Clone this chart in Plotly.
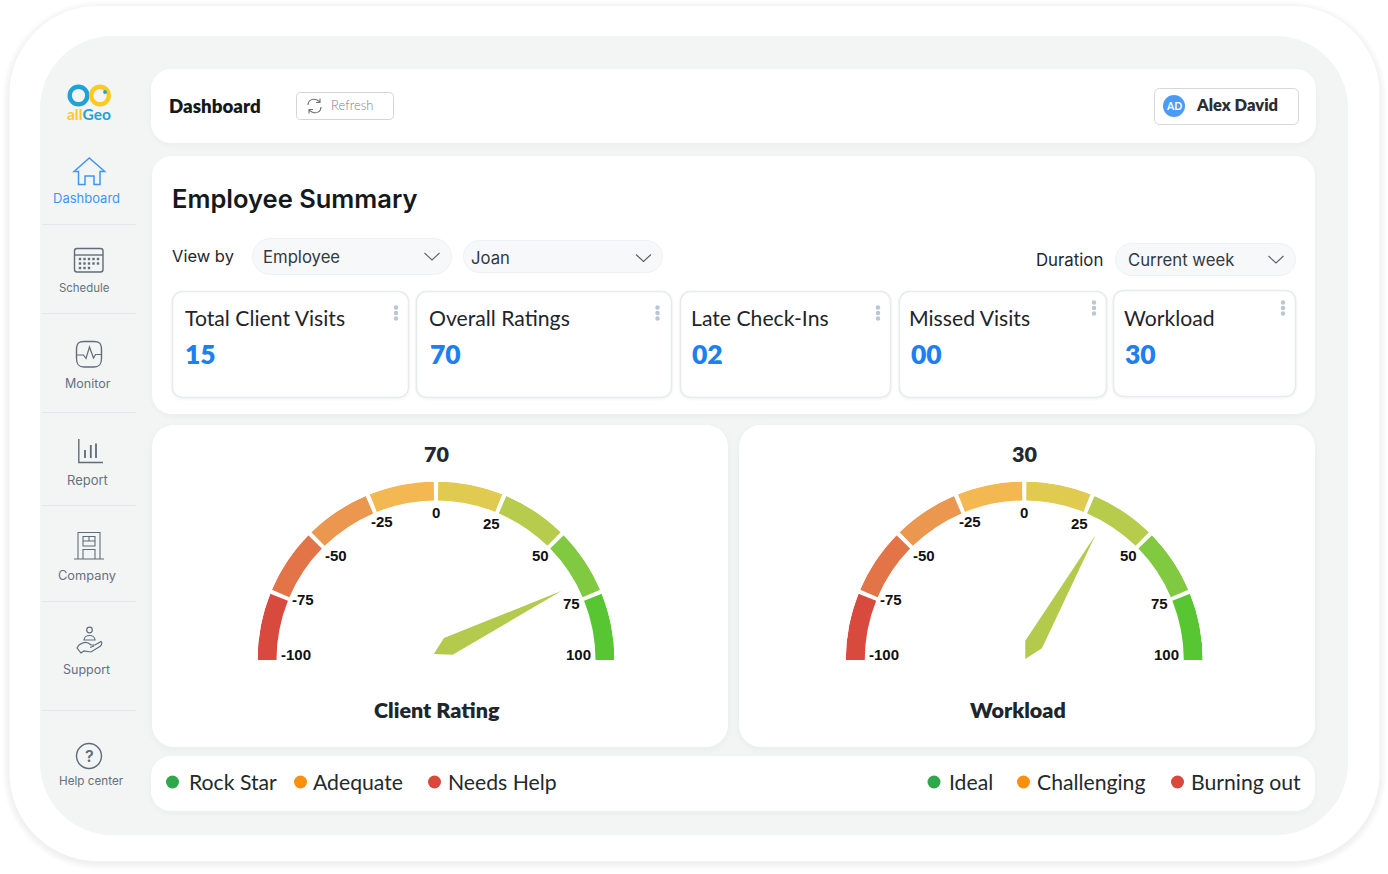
import plotly.graph_objects as go

# ---------- data ----------
gauge_names = ["Client Rating", "Workload"]
gauge_values = [70, 30]
needle_readings = [68, 33]
scale_edges = [-100, -75, -50, -25, 0, 25, 50, 75, 100]
scale_labels = ["-100", "-75", "-50", "-25", "0", "25", "50", "75", "100"]
kpi_names = ["Total Client Visits", "Overall Ratings", "Late Check-Ins", "Missed Visits", "Workload"]
kpi_values = ["15", "70", "02", "00", "30"]
nav_labels = ["Dashboard", "Schedule", "Monitor", "Report", "Company", "Support", "Help center"]
legend_left = ["Rock Star", "Adequate", "Needs Help"]
legend_right = ["Ideal", "Challenging", "Burning out"]

# ---------- styles ----------
SEG_COLORS = ["#D84A3D", "#E27448", "#EC974F", "#F3B852", "#E0CA50", "#B7CB4D", "#82C942", "#58C632"]
NEEDLE = "#B3CA4C"
W, H = 1388, 874
BODY = "Inter"
AV = "Lato"
INK = "#1C2226"
BLUE = "#1E7FF0"
GREY = "#66707F"
ICON = "#5F6C7B"

shapes, notes = [], []


def rr_path(x0, y0, x1, y1, r):
    k = r * 0.45
    return (f"M{x0+r},{y0} L{x1-r},{y0} C{x1-k},{y0} {x1},{y0+k} {x1},{y0+r} "
            f"L{x1},{y1-r} C{x1},{y1-k} {x1-k},{y1} {x1-r},{y1} "
            f"L{x0+r},{y1} C{x0+k},{y1} {x0},{y1-k} {x0},{y1-r} "
            f"L{x0},{y0+r} C{x0},{y0+k} {x0+k},{y0} {x0+r},{y0} Z")


def rr(x0, y0, x1, y1, r, fill="#FFFFFF", line=None, lw=1):
    shapes.append(dict(type="path", path=rr_path(x0, y0, x1, y1, r), xref="x", yref="y", layer="below",
                       fillcolor=fill, line=dict(color=line or "rgba(0,0,0,0)", width=lw if line else 0)))


def shadow(x0, y0, x1, y1, r, spread=6, alpha=0.006, dy=2):
    for s in range(spread, 0, -1):
        rr(x0 - s, y0 - s + dy, x1 + s, y1 + s + dy, r + s, fill=f"rgba(30,40,50,{alpha})")


def stroke(path, color=ICON, lw=1.4, fill="rgba(0,0,0,0)"):
    shapes.append(dict(type="path", path=path, xref="x", yref="y", layer="below",
                       fillcolor=fill, line=dict(color=color, width=lw)))


def ring(cx, cy, r, color=ICON, lw=1.4, fill="rgba(0,0,0,0)"):
    shapes.append(dict(type="circle", x0=cx - r, x1=cx + r, y0=cy - r, y1=cy + r, xref="x", yref="y",
                       layer="below", fillcolor=fill, line=dict(color=color, width=lw)))


def text(x, y, s, size, color=INK, font=BODY, weight=400, anchor="left"):
    notes.append(dict(x=x, y=y, xref="x", yref="y", text=s, showarrow=False, xanchor=anchor, yanchor="middle",
                      font=dict(family=font, size=size, color=color, weight=weight), borderpad=0, borderwidth=0))


# ---------- frame ----------
shadow(9.5, 6, 1379.5, 861, 88, spread=7, alpha=0.007, dy=2)
rr(9.5, 6, 1379.5, 861, 88)
rr(40, 36, 1348, 835, 72, fill="#F3F5F5")

# ---------- cards ----------
shadow(151, 69, 1316, 143, 20, spread=4, alpha=0.004)
rr(151, 69, 1316, 143, 20)
shadow(152, 156, 1315, 414, 20, spread=4, alpha=0.004)
rr(152, 156, 1315, 414, 20)
for x0, x1 in [(152, 728), (739, 1315)]:
    shadow(x0, 425, x1, 747, 22, spread=5, alpha=0.005)
    rr(x0, 425, x1, 747, 22)
shadow(151, 756, 1315, 811, 20, spread=4, alpha=0.005)
rr(151, 756, 1315, 811, 20)

# ---------- header ----------
text(169, 105.5, "Dashboard", 18.7, font=AV, weight=800, color="#15191C")
rr(296.5, 92.5, 393.5, 119.5, 4, line="#D2D4D6", lw=1)
stroke("M308,105 C308,100 313,98 317,100 L320,102 M320,98.5 L320,102.5 L316,102.5", color="#6E7478", lw=1.1)
stroke("M321,107 C321,112 316,114 312,112 L309,110 M309,113.5 L309,109.5 L313,109.5", color="#6E7478", lw=1.1)
text(331, 105, "Refresh", 13, color="#7C8185", font=AV, weight=300)
rr(1154.5, 88.5, 1298.5, 124.5, 5, line="#D5D7D9", lw=1)
ring(1174, 106, 11, color="#4B9BF5", lw=0, fill="#4B9BF5")
text(1174, 106, "AD", 10.5, color="#FFFFFF", font=AV, weight=700, anchor="center")
text(1195.5, 105, "Alex David", 16.5, color="#2A2E31", font=AV, weight=800)

# ---------- filters ----------
text(172, 198, "Employee Summary", 25.5, color="#15191C", weight=600)
text(172, 256, "View by", 16.5, color="#23282C")
text(1036, 259.5, "Duration", 16.8, color="#23282C")
filters = [(252, 238, 452, 275, 18, "Employee", 262.5, 256.5, 432), (463, 240, 663, 273, 16, "Joan", 471, 258, 643.5),
           (1115, 243, 1296, 276, 16, "Current week", 1127.5, 259.5, 1276)]
for x0, y0, x1, y1, r, lab, tx, ty, cx in filters:
    rr(x0 + .5, y0 + .5, x1 - .5, y1 - .5, r, fill="#F7F8FA", line="#EEF0F4", lw=1)
    text(tx, ty, lab, 16.7, color="#33393E")
    stroke(f"M{cx-7.5},{ty-3.5} L{cx},{ty+3.5} L{cx+7.5},{ty-3.5}", color="#5A6066", lw=1.1)

# ---------- KPI cards ----------
kpi_boxes = [(172, 291, 409, 398), (416, 291, 672, 398), (680, 291, 891, 398), (899, 291, 1107, 398), (1113, 290, 1296, 397)]
kpi_text_x = [185, 429, 691, 909, 1124]
kpi_val_x = [185, 429.5, 691.5, 910.5, 1124.5]
dot_x, dot_y = [], []
for box, nm, val, tx, vx in zip(kpi_boxes, kpi_names, kpi_values, kpi_text_x, kpi_val_x):
    x0, y0, x1, y1 = box
    shadow(x0, y0, x1, y1, 10, spread=2, alpha=0.012, dy=1)
    rr(x0 + .5, y0 + .5, x1 - .5, y1 - .5, 10, line="#E8EBEC", lw=1.5)
    text(tx, 317.5, nm, 21.2, color="#1F2529", font=AV)
    text(vx, 353.5, val, 26.5, color=BLUE, font=AV, weight=800)
    for dy in (-5.5, 0, 5.5):
        dot_x.append(x1 - 13 if x1 != 672 else x1 - 14.5)
        dot_y.append(313 + dy if x1 < 1000 else 308 + dy)

# ---------- sidebar ----------
for y in [224.5, 313.5, 412.5, 505.5, 601.5, 710.5]:
    shapes.append(dict(type="line", x0=42, x1=136, y0=y, y1=y, xref="x", yref="y", layer="below",
                       line=dict(color="#E3E6EA", width=1)))
nav_pos = [(86, 198), (84, 287.5), (87.5, 383.5), (87, 479.5), (86.5, 575), (86, 669.5), (91, 780.5)]
nav_size = [13, 11.4, 12.5, 13, 12.8, 12.5, 11.7]
for i, (lab, (x, y), sz) in enumerate(zip(nav_labels, nav_pos, nav_size)):
    text(x, y, lab, sz, color="#3F94F7" if i == 0 else GREY, anchor="center")

# logo
ring(78.5, 95.5, 8.8, color="#1EA2D8", lw=4.4)
ring(100, 95.5, 8.8, color="#FFC91F", lw=4.4)
ring(105, 92, 1.9, color="#1EA2D8", lw=0, fill="#1EA2D8")
notes.append(dict(x=89, y=114, xref="x", yref="y", showarrow=False, xanchor="center", yanchor="middle",
                  text="<span style='color:#FFC91F'>all</span><span style='color:#1EA2D8'>Geo</span>",
                  font=dict(family=AV, size=15.5, weight=700)))

# icons
stroke("M74,171.5 L89.3,158 L104.7,171.5 L100,171.5 L100,184.5 L94,184.5 L94,176 L85,176 L85,184.5 L78.5,184.5 L78.5,171.5 Z",
       color="#3F94F7", lw=1.5)
rr(74.5, 248.5, 103, 272, 2.5, fill="rgba(0,0,0,0)", line=ICON, lw=1.4)
stroke("M74.5,255 L103,255")
stroke("M76.5,350 C76.5,343 79,341.5 84,341.5 L94,341.5 C99,341.5 101.5,343 101.5,350 L101.5,358 C101.5,365 99,367 94,367 "
       "L84,367 C79,367 76.5,365 76.5,358 Z")
stroke("M76.5,355 L83.5,355 L86,358.5 L89.5,347 L93.5,358 L95.5,354.5 L101.5,354.5", lw=1.2)
stroke("M78.8,439 L78.8,462.5 L103,462.5", lw=1.4)
stroke("M85,450 L85,458 M90.8,445 L90.8,458 M96,443.5 L96,458", lw=1.8)
stroke("M74,559 L104,559 M78,559 L78,532.5 L100,532.5 L100,559 M83,536.5 L95,536.5 L95,546 L83,546 Z M83,541 L95,541 M89,536.5 L89,541 "
       "M83,559 L83,549.5 L95,549.5 L95,559", lw=1.1)
ring(89.5, 630, 2.8, lw=1.2)
stroke("M84,640 C84,634 95,634 95,640 Z", lw=1.2)
stroke("M79,645 C84,641 88,642 91,645 L95,645 L101,641.5 C103,643 101,646 99,647 L91,652 L84,651 L81,653 L77,648 Z M90,647.5 L94,646", lw=1.2)
ring(89, 756, 12.5, lw=1.5)
text(89, 756, "?", 16, color=ICON, weight=600, anchor="center")

# ---------- gauges ----------
gauge_boxes = [(257.5, 481.5, 614.5, 660), (845.5, 481.5, 1203, 660)]
tick_offsets = [(-140, -6), (-133, -61), (-100, -105), (-54, -139), (0, -148), (55, -137), (104.5, -105), (135.5, -57), (142.5, -6)]
needle_shapes = [
    {"r": [23.4, 6.4, 17.5], "theta": [70, 111, 17.6]},
    {"r": [19.3, 1.4, 21.2], "theta": [87, 45, 33.5]},
]
OUTER, INNER, GAP = 178.5, 159.5, 1.4
traces = []
for g, (name, val, read, box, nd) in enumerate(zip(gauge_names, gauge_values, needle_readings, gauge_boxes, needle_shapes)):
    sub = "polar" if g == 0 else "polar2"
    to_theta = lambda v: 180 - (v + 100) * 0.9
    th, wd = [], []
    for a, b in zip(scale_edges[:-1], scale_edges[1:]):
        t0 = to_theta(a) - (GAP / 2 if a > -100 else 0)
        t1 = to_theta(b) + (GAP / 2 if b < 100 else 0)
        th.append((t0 + t1) / 2)
        wd.append(t0 - t1)
    traces.append(go.Barpolar(r=[OUTER - INNER] * 8, base=[INNER] * 8, theta=th, width=wd, subplot=sub,
                              marker=dict(color=SEG_COLORS, line=dict(width=0)), showlegend=False, hoverinfo="skip"))
    tip = to_theta(read)
    traces.append(go.Scatterpolar(r=[143.5] + nd["r"] + [143.5], theta=[tip] + nd["theta"] + [tip], subplot=sub, mode="lines",
                                  fill="toself", fillcolor=NEEDLE, line=dict(width=0, color=NEEDLE),
                                  showlegend=False, hoverinfo="skip"))
    cx = (box[0] + box[2]) / 2
    for lab, (dx, dy) in zip(scale_labels, tick_offsets):
        text(cx + dx, box[3] + dy, lab, 15, color="#111111", font="Liberation Sans", weight=700, anchor="center")
    text(cx, 453.5, str(val), 21.5, color="#22292E", font=AV, weight=800, anchor="center")
title_x = [437, 1017.5]
for nm, x in zip(gauge_names, title_x):
    text(x, 709.5, nm, 21.5, color="#1E262B", font=AV, weight=800, anchor="center")

# ---------- bottom legend ----------
leg_dots_x = [172.5, 300.5, 434.5, 934, 1023.5, 1177.5]
leg_cols = ["#2EA84B", "#FC8F0B", "#D8483B", "#2EA84B", "#FC8F0B", "#D8483B"]
leg_text_x = [188.5, 313, 448, 949, 1036.5, 1191]
for lab, x in zip(legend_left + legend_right, leg_text_x):
    text(x, 781.5, lab, 21.2, color="#23292D", font=AV)

# ---------- marker traces on the pixel canvas ----------
cal_x, cal_y = [], []
for yy, xs in [(259, [80, 84.5, 89, 93.5, 98]), (263.5, [80, 84.5, 89, 93.5, 98]), (268, [80, 84.5, 89])]:
    for xx in xs:
        cal_x.append(xx)
        cal_y.append(yy)
canvas = [
    go.Scatter(x=dot_x, y=dot_y, mode="markers", marker=dict(size=4.5, color="#B9C7D2"), showlegend=False, hoverinfo="skip"),
    go.Scatter(x=cal_x, y=cal_y, mode="markers", marker=dict(size=2.4, color=ICON, symbol="square"), showlegend=False, hoverinfo="skip"),
    go.Scatter(x=leg_dots_x, y=[782] * 6, mode="markers", marker=dict(size=13, color=leg_cols), showlegend=False, hoverinfo="skip"),
]

fig = go.Figure(canvas + traces)
hidden_r = dict(visible=False, range=[0, OUTER])
hidden_a = dict(visible=False, direction="counterclockwise", rotation=0)
polar = {}
for key, box in zip(["polar", "polar2"], gauge_boxes):
    polar[key] = dict(
        domain=dict(x=[box[0] / W, box[2] / W], y=[1 - box[3] / H, 1 - box[1] / H]),
        sector=[0, 180], radialaxis=hidden_r, angularaxis=hidden_a, bgcolor="rgba(0,0,0,0)")
fig.update_layout(
    width=W, height=H, margin=dict(l=0, r=0, t=0, b=0), paper_bgcolor="#FFFFFF", plot_bgcolor="rgba(0,0,0,0)",
    xaxis=dict(range=[0, W], visible=False, fixedrange=True, domain=[0, 1]),
    yaxis=dict(range=[H, 0], visible=False, fixedrange=True, domain=[0, 1]),
    shapes=shapes, annotations=notes, showlegend=False, **polar)
fig.write_html("out.html", config=dict(displayModeBar=False),
               post_script="document.body.style.margin='0';document.body.style.overflow='hidden';")
